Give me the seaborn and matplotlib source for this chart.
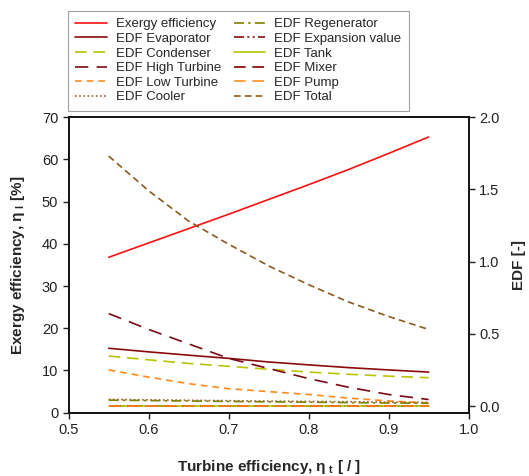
import matplotlib
matplotlib.use("Agg")
import matplotlib.pyplot as plt
import seaborn as sns

# ---- data ----
turbine_eff = [0.55, 0.60, 0.65, 0.70, 0.75, 0.80, 0.85, 0.90, 0.95]

exergy_eff = [36.8, 40.2, 43.6, 47.0, 50.5, 54.0, 57.6, 61.4, 65.3]

edf_evaporator = [0.400, 0.375, 0.352, 0.330, 0.305, 0.285, 0.266, 0.250, 0.235]
edf_condenser = [0.346, 0.320, 0.295, 0.275, 0.255, 0.235, 0.220, 0.207, 0.196]
edf_high_turbine = [0.640, 0.530, 0.430, 0.330, 0.260, 0.190, 0.130, 0.080, 0.045]
edf_low_turbine = [0.250, 0.200, 0.155, 0.120, 0.100, 0.080, 0.055, 0.035, 0.022]
edf_cooler = [0.046, 0.043, 0.040, 0.037, 0.034, 0.032, 0.030, 0.027, 0.025]
edf_regenerator = [0.041, 0.038, 0.035, 0.032, 0.029, 0.027, 0.024, 0.021, 0.019]
edf_expansion = [0.002, 0.002, 0.002, 0.002, 0.002, 0.002, 0.002, 0.002, 0.002]
edf_tank = [0.002, 0.002, 0.002, 0.002, 0.002, 0.002, 0.002, 0.002, 0.002]
edf_mixer = [0.002, 0.002, 0.002, 0.002, 0.002, 0.002, 0.002, 0.002, 0.002]
edf_pump = [0.002, 0.002, 0.002, 0.002, 0.002, 0.002, 0.002, 0.002, 0.002]
edf_total = [1.730, 1.490, 1.280, 1.120, 0.970, 0.840, 0.720, 0.620, 0.530]

# (label, values, color, linestyle)
EDF_SERIES = [
    ("EDF Evaporator", edf_evaporator, "#8b0a0a", "-"),
    ("EDF Condenser", edf_condenser, "#b8c400", (0, (7, 4))),
    ("EDF High Turbine", edf_high_turbine, "#7a0a14", (0, (8, 5))),
    ("EDF Low Turbine", edf_low_turbine, "#ff8a1c", (0, (4, 3))),
    ("EDF Cooler", edf_cooler, "#a0603a", (0, (1, 1.5))),
    ("EDF Regenerator", edf_regenerator, "#808000", (0, (6, 2.5, 1.5, 2.5))),
    ("EDF Expansion value", edf_expansion, "#8b0a0a", (0, (6, 2, 1.2, 2, 1.2, 2))),
    ("EDF Tank", edf_tank, "#b8c400", "-"),
    ("EDF Mixer", edf_mixer, "#800000", (0, (7, 4))),
    ("EDF Pump", edf_pump, "#ff9020", (0, (7, 4))),
    ("EDF Total", edf_total, "#8c5a1e", (0, (4, 2.5))),
]

sns.set_style("ticks")
plt.rcParams["font.family"] = ["Liberation Sans", "DejaVu Sans"]
plt.rcParams["mathtext.fontset"] = "custom"
plt.rcParams["mathtext.rm"] = "Liberation Sans"

fig = plt.figure(figsize=(5.29, 4.76), dpi=100)
ax = fig.add_axes([0.1299, 0.133, 0.756, 0.621])
ax2 = ax.twinx()

sns.lineplot(x=turbine_eff, y=exergy_eff, ax=ax, color="#ff1010", lw=1.2,
             label="Exergy efficiency")
for label, vals, col, ls in EDF_SERIES:
    sns.lineplot(x=turbine_eff, y=vals, ax=ax2, color=col, lw=1.2,
                 linestyle=ls, label=label)

for a in (ax, ax2):
    if a.get_legend() is not None:
        a.get_legend().remove()

ax.set_xlim(0.5, 1.0)
ax.set_ylim(0, 70)
ax.set_xticks([0.5, 0.6, 0.7, 0.8, 0.9, 1.0])
ax.set_yticks(range(0, 71, 10))
ax2.set_ylim(-0.046, 2.0)
ax2.set_yticks([0.0, 0.5, 1.0, 1.5, 2.0])
ax2.set_yticklabels(["0.0", "0.5", "1.0", "1.5", "2.0"])

for a in (ax, ax2):
    a.tick_params(labelsize=10.5, length=4, width=1, colors="#222222",
                  labelcolor="#222222")
    for sp in a.spines.values():
        sp.set_visible(True)
        sp.set_linewidth(1.2)
        sp.set_color("#111111")

ax.set_xlabel(r"Turbine efficiency, η$_\mathregular{\ t}$ [ / ]",
              fontsize=11, fontweight="bold", labelpad=15)
ax.set_ylabel(r"Exergy efficiency, η$_\mathregular{\ I}$ [%]",
              fontsize=11, fontweight="bold", labelpad=11)
ax2.set_ylabel("EDF [-]", fontsize=11, fontweight="bold", labelpad=9)

h1, l1 = ax.get_legend_handles_labels()
h2, l2 = ax2.get_legend_handles_labels()
leg = fig.legend(h1 + h2, l1 + l2, loc="upper left",
                 bbox_to_anchor=(0.129, 0.977), borderaxespad=0, ncol=2,
                 fontsize=9.5, frameon=True, fancybox=False,
                 handlelength=2.4, handletextpad=0.7, labelspacing=0.18,
                 columnspacing=0.9, borderpad=0.55)
leg.get_frame().set_edgecolor("#888888")
leg.get_frame().set_linewidth(0.8)

fig.savefig("out.png", dpi=100)
